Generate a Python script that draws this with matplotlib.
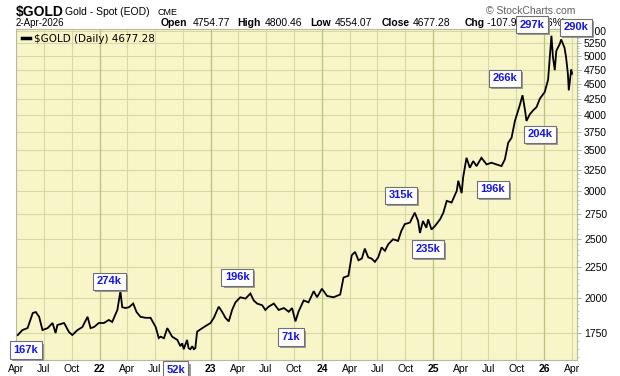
import matplotlib
matplotlib.use('Agg')
import matplotlib.pyplot as plt
import matplotlib.dates as mdates
import matplotlib.patheffects as pe
from matplotlib.lines import Line2D
import pandas as pd

# $GOLD daily close
dates = [
    '2021-04-07', '2021-04-22', '2021-05-09', '2021-05-26', '2021-06-05', '2021-06-16',
    '2021-06-27', '2021-07-14', '2021-07-30', '2021-08-09', '2021-08-15', '2021-09-06',
    '2021-09-22', '2021-10-03', '2021-10-20', '2021-11-05', '2021-11-22', '2021-12-02',
    '2021-12-13', '2021-12-29', '2022-01-15', '2022-01-31', '2022-02-11', '2022-02-28',
    '2022-03-10', '2022-03-16', '2022-03-27', '2022-04-07', '2022-04-21', '2022-05-02',
    '2022-05-15', '2022-06-01', '2022-06-17', '2022-07-04', '2022-07-14', '2022-07-20',
    '2022-07-31', '2022-08-11', '2022-08-27', '2022-09-13', '2022-09-23', '2022-09-29',
    '2022-10-04', '2022-10-15', '2022-10-20', '2022-10-26', '2022-11-01', '2022-11-06',
    '2022-11-11', '2022-11-17', '2022-12-04', '2022-12-20',
    '2022-12-31', '2023-01-11', '2023-01-27', '2023-02-07', '2023-02-18', '2023-03-01',
    '2023-03-12', '2023-03-23', '2023-04-08', '2023-04-25', '2023-05-11', '2023-05-22',
    '2023-06-02', '2023-06-19', '2023-06-29', '2023-07-10', '2023-07-27', '2023-08-12',
    '2023-08-29', '2023-09-14', '2023-09-25', '2023-10-06', '2023-10-16', '2023-11-02',
    '2023-11-18', '2023-12-05', '2023-12-16', '2024-01-01', '2024-01-18', '2024-02-08',
    '2024-03-01', '2024-03-12', '2024-03-28', '2024-04-08', '2024-04-19', '2024-04-30',
    '2024-05-11', '2024-05-21', '2024-06-01', '2024-06-12', '2024-06-23', '2024-07-04',
    '2024-07-15', '2024-07-26', '2024-08-06', '2024-08-22', '2024-09-07', '2024-09-18',
    '2024-09-29', '2024-10-16', '2024-11-01', '2024-11-12', '2024-11-18', '2024-11-28',
    '2024-12-09', '2024-12-15', '2024-12-26', '2025-01-06', '2025-01-23', '2025-02-03',
    '2025-02-14', '2025-03-02', '2025-03-19', '2025-03-24', '2025-04-04', '2025-04-09',
    '2025-04-20', '2025-05-01', '2025-05-12', '2025-05-23', '2025-06-08', '2025-06-25',
    '2025-07-11', '2025-07-27', '2025-08-13', '2025-08-24', '2025-09-04', '2025-09-15',
    '2025-09-26', '2025-10-12', '2025-10-21', '2025-10-29', '2025-11-03', '2025-11-14',
    '2025-11-25', '2025-12-06', '2025-12-17', '2026-01-02', '2026-01-13', '2026-01-24',
    '2026-01-29', '2026-02-04', '2026-02-09', '2026-02-20', '2026-02-25', '2026-03-08',
    '2026-03-13', '2026-03-19', '2026-03-22', '2026-03-30', '2026-04-02',
]
prices = [
    1737, 1770, 1783, 1888, 1895, 1861,
    1770, 1783, 1818, 1750, 1804, 1818,
    1757, 1737, 1770, 1790, 1861, 1783,
    1790, 1818, 1818, 1839, 1825, 1910,
    2050, 1930, 1924, 1930, 1957, 1895,
    1861, 1854, 1854, 1790, 1717, 1726,
    1716, 1783, 1726, 1705, 1665, 1683,
    1646, 1705, 1652, 1646, 1665, 1646,
    1652, 1759, 1783, 1804,
    1818, 1854, 1934, 1897, 1854, 1829,
    1910, 1966, 2004, 1994, 2033, 1980,
    1957, 1944, 1910, 1934, 1957, 1910,
    1924, 1897, 1924, 1829, 1897, 1980,
    1966, 2051, 2004, 2070, 2014, 2004,
    2025, 2160, 2174, 2350, 2380, 2306,
    2321, 2410, 2332, 2321, 2292, 2332,
    2421, 2390, 2451, 2497, 2481, 2578,
    2644, 2660, 2762, 2676, 2557, 2676,
    2608, 2692, 2591, 2624, 2692, 2762,
    2888, 2870, 3000, 3117, 2974, 3158,
    3400, 3274, 3358, 3295, 3400, 3316,
    3337, 3316, 3295, 3379, 3600, 3668,
    3910, 4150, 4310, 4080, 3910, 4010,
    4070, 4120, 4254, 4363, 4570, 5400,
    4980, 4740, 5100, 5230, 5325, 5160,
    4980, 4680, 4390, 4750, 4677.28,
]

# quote header
quote_date = '2-Apr-2026'
q_open, q_high, q_low, q_close = 4754.77, 4800.46, 4554.07, 4677.28
q_chg, q_chg_pct = -107.93, -2.26

# volume call-outs
vol_labels = ['167k', '274k', '52k', '196k', '71k', '315k',
              '235k', '196k', '266k', '204k', '297k', '290k']
# where each call-out box sits (date, price level)
vol_box_dates = ['2021-05-03', '2022-02-02', '2022-09-07', '2023-03-29', '2023-09-22',
                 '2024-09-16', '2024-12-15', '2025-07-15', '2025-08-24', '2025-12-17',
                 '2025-11-21', '2026-04-15']
vol_box_prices = [1641, 2131, 1521, 2163, 1724, 2952, 2406, 3020, 4597, 3720, 5635, 5576]

y_ticks = list(range(1750, 5501, 250))

W, H = 620, 376
fig = plt.figure(figsize=(W / 100, H / 100), dpi=100)
fig.patch.set_facecolor('white')
ax = fig.add_axes([16 / W, 1 - 360 / H, (577 - 16) / W, (360 - 29) / H])
ax.set_facecolor('#F8F6C8')

x = pd.to_datetime(dates)
ax.plot(x, prices, color='black', lw=1.3, zorder=4, solid_joinstyle='miter')

ax.set_yscale('log')
ax.set_ylim(1580, 5540)
ax.set_xlim(pd.Timestamp('2021-04-01'), pd.Timestamp('2026-04-18'))

# x axis: quarters, years in bold
q_ticks = pd.date_range('2021-04-01', '2026-04-01', freq='QS')
q_labels = [t.strftime('%y') if t.month == 1 else t.strftime('%b') for t in q_ticks]
ax.set_xticks(q_ticks, q_labels)
for t, lab in zip(q_ticks, ax.get_xticklabels()):
    lab.set_fontfamily('Liberation Sans')
    if t.month == 1:
        lab.set_fontweight('bold')
        ax.axvline(t, color='#BAC482', lw=0.9, zorder=1)
ax.tick_params(axis='x', length=0, pad=3, labelsize=7.5)

# y axis on the right
ax.yaxis.tick_right()
ax.set_yticks(y_ticks, [str(v) for v in y_ticks])
ax.set_yticks(list(range(1600, 5550, 50)), minor=True)
ax.yaxis.set_minor_formatter(plt.NullFormatter())
ax.tick_params(axis='y', which='major', length=3, width=0.6, color='#999999',
               pad=2, labelsize=7.5)
ax.tick_params(axis='y', which='minor', length=1.5, width=0.5, color='#aaaaaa')
for lab in ax.get_yticklabels():
    lab.set_fontfamily('Liberation Sans')

ax.set_axisbelow(True)
ax.grid(True, which='major', color='#D6D9A6', lw=0.8)
for s in ax.spines.values():
    s.set_color('#B8B8A0')
    s.set_linewidth(0.8)

# legend
ax.legend(handles=[Line2D([], [], color='black', lw=2.5)],
          labels=[f'$GOLD (Daily) {prices[-1]:.2f}'],
          loc='upper left', bbox_to_anchor=(0.0, 1.005), frameon=False,
          handlelength=0.7, handletextpad=0.4, borderaxespad=0.2,
          prop={'family': 'DejaVu Sans', 'size': 7.5})

# volume call-out boxes, box drawn with a grey drop shadow
for lab, d, p in zip(vol_labels, vol_box_dates, vol_box_prices):
    xd = mdates.date2num(pd.Timestamp(d))
    t = ax.text(xd, p, lab, ha='center', va='center',
                fontsize=8, fontweight='bold', family='Liberation Sans', color='#1515E8',
                bbox=dict(boxstyle='square,pad=0.32', fc='white', ec='#707070', lw=0.8),
                zorder=11, clip_on=False)
    t.get_bbox_patch().set_path_effects([
        pe.SimplePatchShadow(offset=(1.5, -1.5), shadow_rgbFace='#9a9a9a', alpha=1.0),
        pe.Normal(),
    ])


# header text (figure pixel positions)
def head(px, py, s, **kw):
    kw.setdefault('family', 'Liberation Sans')
    ax.text(px / W, 1 - py / H, s, transform=fig.transFigure, clip_on=False,
            va='baseline', ha='left', zorder=6, **kw)


head(16, 16, '$GOLD', fontsize=10, fontweight='bold')
head(65, 15, 'Gold - Spot (EOD)', fontsize=7.5)
head(158, 15, 'CME', fontsize=6.5)
head(486, 14, '\u00a9 StockCharts.com', fontsize=7.5, color='#606060')
head(16, 26, quote_date, fontsize=7)
row = [(161, 'Open', True), (193, f'{q_open:.2f}', False),
       (237, 'High', True), (265, f'{q_high:.2f}', False),
       (310, 'Low', True), (335, f'{q_low:.2f}', False),
       (382, 'Close', True), (413, f'{q_close:.2f}', False),
       (465, 'Chg', True), (487, f'{q_chg:.2f} ({q_chg_pct:.2f}%)', False)]
for px, s, bold in row:
    head(px, 26, s, fontsize=7.5, fontweight='bold' if bold else 'normal')

fig.savefig('out.png', dpi=100, facecolor='white')
